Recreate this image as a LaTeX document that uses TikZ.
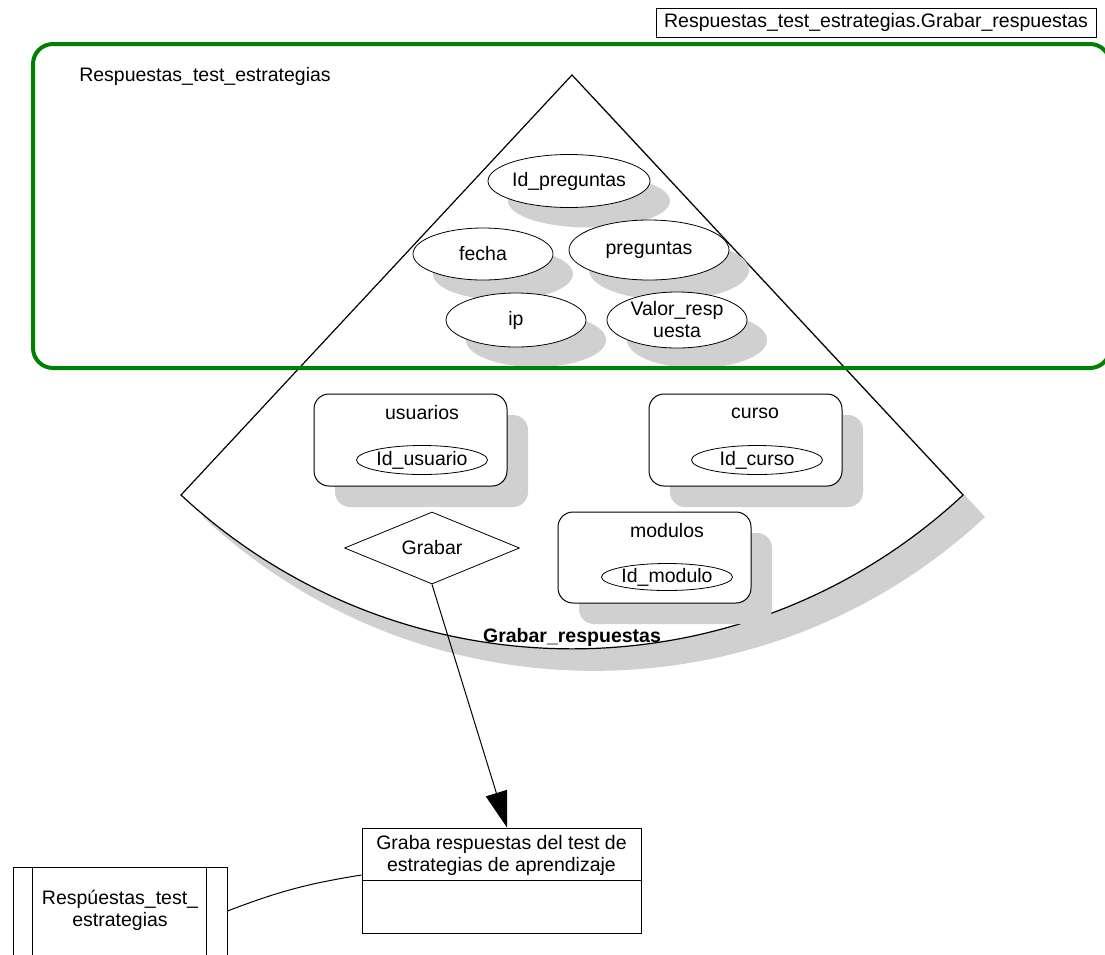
\documentclass[tikz,border=0pt]{standalone}
\usepackage{fontspec}
\setmainfont{Liberation Sans}
\usetikzlibrary{shapes.geometric,shadows,arrows.meta}
\definecolor{shgray}{RGB}{208,208,208}
\definecolor{pkggreen}{RGB}{0,128,0}
\begin{document}
\begin{tikzpicture}[x=1pt,y=-1pt,
  every node/.style={font=\fontsize{19.5}{22}\selectfont, inner sep=0pt},
  attr/.style={ellipse, draw, fill=white, line width=0.8pt,
    general shadow={fill=shgray, shadow xshift=20pt, shadow yshift=-20pt}},
  keyattr/.style={ellipse, draw, fill=white, line width=0.8pt},
  ent/.style={rectangle, rounded corners=15pt, draw, fill=white, line width=1pt,
    minimum width=193pt,
    general shadow={fill=shgray, shadow xshift=21pt, shadow yshift=-21pt}},
  plainbox/.style={rectangle, draw, line width=1pt},
  conn/.style={line width=1pt}
]
\useasboundingbox (0,0) rectangle (1105,954);
\clip (0,0) rectangle (1105,954);

% sector with shadow
\coordinate (apex) at (572,75);
\fill[shgray] ([shift={(22,22)}]apex) -- ++(-391,420)
  arc[start angle=227.04, end angle=312.96, radius=573.8pt] -- cycle;
\draw[line width=1.2pt, fill=white] (apex) -- ++(-391,420)
  arc[start angle=227.04, end angle=312.96, radius=573.8pt] -- cycle;

% attributes
\node[attr, minimum width=162pt, minimum height=53pt] (idp) at (569,181) {Id\_preguntas};
\node[attr, minimum width=140pt, minimum height=52pt] (fecha) at (483,254) {fecha};
\node[attr, minimum width=160pt, minimum height=60pt] (preg) at (649,250) {preguntas};
\node[attr, minimum width=140pt, minimum height=54pt] (ip) at (516,320) {ip};
\node[attr, minimum width=140pt, minimum height=56pt] (valor) at (677,320) {};
\node[align=center] (valort) at (valor) {Valor\_resp\\uesta};

% entities
\node[ent, minimum height=92pt] (usu) at (410.5,440) {};
\node (usut) at (422,413) {usuarios};
\node[keyattr, minimum width=131pt, minimum height=29pt] (idu) at (422,460) {Id\_usuario};

\node[ent, minimum height=92pt] (cur) at (745.5,440) {};
\node (curt) at (755,413) {curso};
\node[keyattr, minimum width=131pt, minimum height=29pt] (idc) at (757,460) {Id\_curso};

\node[ent, minimum height=91pt] (mod) at (654.5,557.5) {};
\node (modt) at (667,531) {modulos};
\node[keyattr, minimum width=131pt, minimum height=27pt] (idm) at (667,577) {Id\_modulo};

% relation
\node[diamond, draw, fill=white, aspect=2.43, minimum width=175pt, minimum height=72pt,
  line width=0.8pt] (grabar) at (432,548) {Grabar};

\node[font=\bfseries\fontsize{19.5}{22}\selectfont] (grl) at (572,637) {Grabar\_respuestas};

% package
\node[draw=pkggreen, line width=4pt, rounded corners=20pt, minimum width=1077pt,
  minimum height=324pt] (pkg) at (571.5,206) {};
\node (pkgl) at (205,76) {Respuestas\_test\_estrategias};

% title
\node[plainbox, line width=0.8pt, minimum width=440pt, minimum height=29pt] (title)
  at (876,22.5) {Respuestas\_test\_estrategias.Grabar\_respuestas};

% process box
\node[plainbox, minimum width=279pt, minimum height=105pt] (graba) at (501.5,880.5) {};
\node[align=center] (grabat) at (501.5,855) {Graba respuestas del test de\\estrategias de aprendizaje};
\draw[conn] (graba.west) -- (graba.east);

% data store
\node[plainbox, minimum width=214pt, minimum height=88pt] (lbox) at (120,911) {};
\draw[conn] ([xshift=20pt]lbox.north west) -- ([xshift=20pt]lbox.south west);
\draw[conn] ([xshift=-21pt]lbox.north east) -- ([xshift=-21pt]lbox.south east);
\node[align=center] (lboxt) at (120,910) {Respúestas\_test\_\\estrategias};

% connectors
\draw[conn, -{Triangle[length=36pt,width=22pt]}] (grabar.south) -- ([xshift=5.5pt]graba.north);
\draw[conn] (lbox.east) to[bend left=6] ([yshift=5.5pt]graba.west);
\end{tikzpicture}
\end{document}
